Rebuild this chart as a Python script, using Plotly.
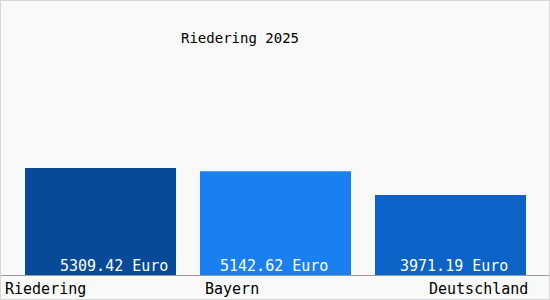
import plotly.graph_objects as go

categories = ["Riedering", "Bayern", "Deutschland"]
values = [5309.42, 5142.62, 3971.19]
value_labels = ["5309.42 Euro", "5142.62 Euro", "3971.19 Euro"]
title_text = "Riedering 2025"

bar_colors = ["#074a98", "#1a80f2", "#0b63c8"]
label_shift = [-55, -44, 28]
value_shift = [13, -2, 3]
FONT = "DejaVu Sans Mono"

W, H = 550, 300
MB = 25
fig = go.Figure(go.Bar(
    x=list(range(len(categories))), y=values,
    marker=dict(color=bar_colors, line=dict(width=0)),
    width=0.863,
    hoverinfo="skip",
))

for i, c in enumerate(categories):
    fig.add_annotation(x=i, y=0, xref="x", yref="paper", yanchor="top",
                       xanchor="center", xshift=label_shift[i], yshift=-3,
                       text=c, showarrow=False,
                       font=dict(family=FONT, size=15, color="black"))
    fig.add_annotation(x=i, y=0, xref="x", yref="y", yanchor="bottom",
                       xanchor="center", xshift=value_shift[i], yshift=-2,
                       text=value_labels[i], showarrow=False,
                       font=dict(family=FONT, size=15, color="white"))

fig.add_annotation(x=240 / W, y=1 - 38 / (H - MB), xref="paper", yref="paper",
                   text=title_text, showarrow=False, xanchor="center", yanchor="middle",
                   font=dict(family=FONT, size=14, color="black"))

# outer border
fig.add_shape(type="rect", xref="paper", yref="paper",
              x0=0.5 / W, x1=1 - 0.5 / W, y0=-(MB - 0.5) / (H - MB), y1=1 - 0.5 / (H - MB),
              line=dict(color="#d8d8d8", width=1), fillcolor="rgba(0,0,0,0)", layer="above")

fig.update_layout(
    width=W, height=H,
    margin=dict(l=0, r=0, t=0, b=MB),
    paper_bgcolor="#f9f9f9", plot_bgcolor="#f9f9f9",
    showlegend=False,
    xaxis=dict(range=[-0.5743, 2.5686], showticklabels=False, showgrid=False,
               zeroline=False, showline=True, linecolor="#999999", linewidth=1,
               fixedrange=True),
    yaxis=dict(range=[0, 13640], visible=False, fixedrange=True),
)

fig.write_html("out.html")
